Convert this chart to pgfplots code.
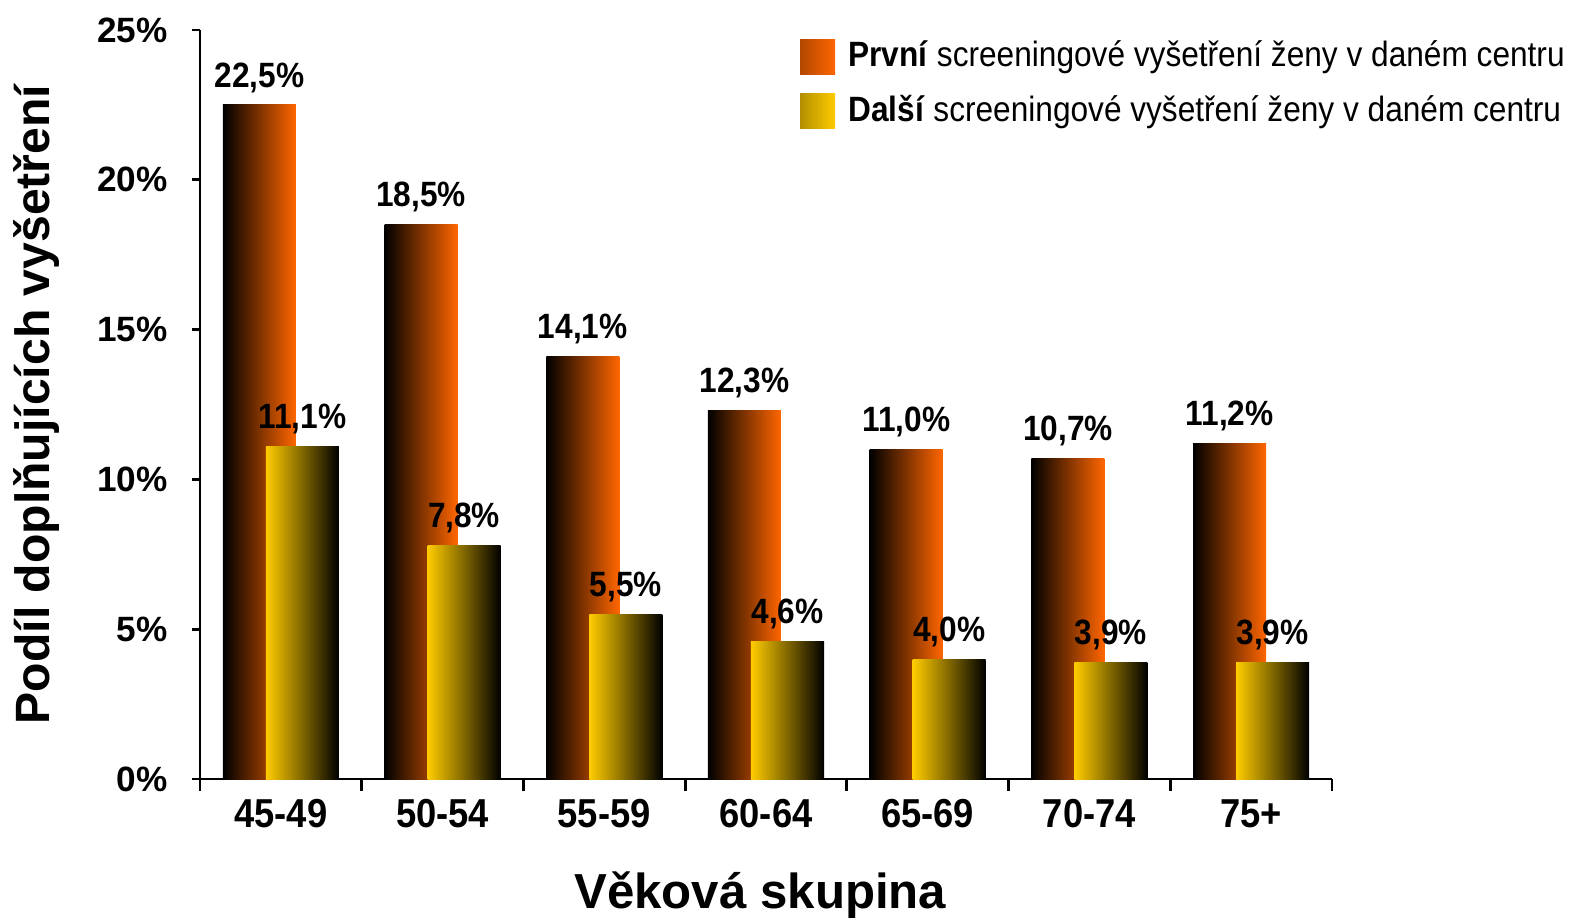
\documentclass[border=0pt]{standalone}
\usepackage{pgfplots}
\pgfplotsset{compat=1.18}
\usepackage{fontspec}
\setmainfont{Liberation Sans}
\newfontfamily\cond[FakeStretch=0.9]{Liberation Sans}

\definecolor{oranz}{RGB}{255,102,0}
\definecolor{zluta}{RGB}{255,204,0}

\pgfplotsset{
    prvni/.style={ybar, bar width=7.3mm, bar shift=-2.15mm, draw=none,
        left color=black, middle color=oranz!80!black, right color=oranz,
        every node near coord/.append style={xshift=-2.15mm},
        legend image code/.code={%
            \shade[left color=oranz!70!black, right color=oranz] (0mm,-1.75mm) rectangle (3.5mm,1.75mm);
            \path (4.1mm,0);}},
    dalsi/.style={ybar, bar width=7.3mm, bar shift=2.15mm, draw=none,
        left color=zluta, middle color=zluta!80!black, right color=black,
        every node near coord/.append style={xshift=2.15mm},
        legend image code/.code={%
            \shade[left color=zluta!70!black, right color=zluta] (0mm,-1.75mm) rectangle (3.5mm,1.75mm);
            \path (4.1mm,0);}},
}

\begin{document}
\begin{tikzpicture}
\useasboundingbox (-20mm,-13.8mm) rectangle (137.4mm,77.9mm);
\begin{axis}[
    scale only axis,
    width=113.2mm,
    height=74.9mm,
    xmin=-0.5, xmax=6.5,
    ymin=0, ymax=25,
    clip=false,
    axis x line*=bottom,
    axis y line*=left,
    axis line style={line width=0.8pt},
    tick align=outside,
    major tick length=0.8mm,
    minor tick length=1.2mm,
    xtick={0,...,6},
    xticklabels={45-49,50-54,55-59,60-64,65-69,70-74,75+},
    major x tick style={draw=none},
    minor xtick={-0.5,0.5,...,6.5},
    minor x tick style={line width=0.8pt, black},
    ytick={0,5,...,25},
    y tick style={line width=0.8pt, black},
    yticklabel={\pgfmathprintnumber{\tick}\%},
    /pgf/number format/assume math mode=true,
    xticklabel style={font=\cond\bfseries\fontsize{11.5}{13}\selectfont, yshift=0mm},
    yticklabel style={font=\bfseries\fontsize{10}{12}\selectfont, xshift=-1.2mm},
    xlabel={Věková skupina},
    xlabel style={font=\bfseries\fontsize{14}{17}\selectfont,
        at={(axis description cs:0.495,-0.155)}, anchor=center},
    ylabel={Podíl doplňujících vyšetření},
    ylabel style={font=\bfseries\fontsize{13.7}{17}\selectfont,
        at={(axis description cs:-0.144,0.5)}, anchor=center},
    nodes near coords={\pgfmathprintnumber[fixed,fixed zerofill,precision=1,use comma]{\pgfplotspointmeta}\%},
    every node near coord/.append style={font=\cond\bfseries\fontsize{10}{12}\selectfont, yshift=0mm},
    legend style={at={(axis description cs:0.5203,1.005)}, anchor=north west,
        draw=none, fill=none, font=\cond\fontsize{10}{12}\selectfont, row sep=0.9mm},
    legend cell align=left,
]

% první vyšetření (každý sloupec zvlášť kvůli přechodu barvy)
\addplot[prvni] coordinates {(0,22.5)};
\addlegendentry{\textbf{První} screeningové vyšetření ženy v daném centru}
% další vyšetření
\addplot[dalsi] coordinates {(0,11.1)};
\addlegendentry{\textbf{Další} screeningové vyšetření ženy v daném centru}

\addplot[prvni, forget plot] coordinates {(1,18.5)};
\addplot[dalsi, forget plot] coordinates {(1,7.8)};
\addplot[prvni, forget plot] coordinates {(2,14.1)};
\addplot[dalsi, forget plot] coordinates {(2,5.5)};
\addplot[prvni, forget plot] coordinates {(3,12.3)};
\addplot[dalsi, forget plot] coordinates {(3,4.6)};
\addplot[prvni, forget plot] coordinates {(4,11.0)};
\addplot[dalsi, forget plot] coordinates {(4,4.0)};
\addplot[prvni, forget plot] coordinates {(5,10.7)};
\addplot[dalsi, forget plot] coordinates {(5,3.9)};
\addplot[prvni, forget plot] coordinates {(6,11.2)};
\addplot[dalsi, forget plot] coordinates {(6,3.9)};

\end{axis}
\end{tikzpicture}
\end{document}
